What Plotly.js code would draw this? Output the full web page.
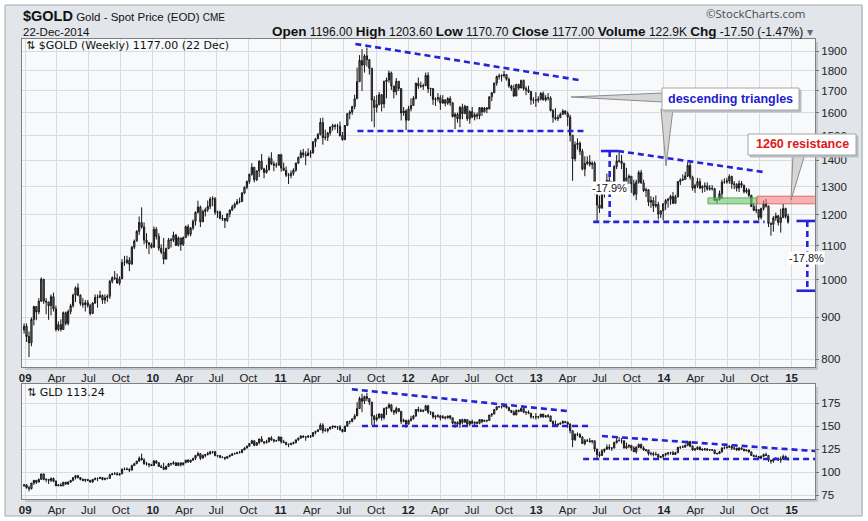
<!DOCTYPE html>
<html>
<head>
<meta charset="utf-8">
<script src="https://cdn.plot.ly/plotly-3.0.1.min.js"></script>
<style>
  html, body { margin: 0; padding: 0; background: #fff; }
  #chart { width: 868px; height: 521px; }
</style>
</head>
<body>
<div id="chart"></div>
<script>
// weekly bars, first week starts Mon 29 Dec 2008, last is 22 Dec 2014
const firstWeek = '2008-12-29';

// $GOLD weekly close / high / low (one row per year)
const goldClose = [
  878,853,838,895,928,914,942,1002,942,940,930,954,922,870,882,870,912,885,915,930,958,978,958,936,933,938,931,910,937,952,953,957,945,952,955,996,1006,1004,991,1003,1050,1050,1057,1045,1096,1115,1146,1175,1160,1118,1110,1104,1096,
  1153,1130,1093,1081,1060,1092,1119,1118,1134,1102,1125,1105,1126,1161,1137,1157,1179,1209,1227,1177,1212,1218,1229,1255,1256,1209,1210,1189,1188,1181,1204,1216,1227,1237,1246,1246,1276,1297,1318,1345,1372,1325,1358,1396,1366,1352,1362,1406,1385,1380,1380,1421,
  1369,1360,1342,1341,1349,1361,1388,1410,1429,1421,1418,1428,1429,1474,1486,1505,1556,1491,1493,1511,1536,1542,1540,1540,1500,1483,1543,1595,1602,1627,1663,1745,1852,1828,1876,1856,1812,1657,1623,1636,1682,1639,1746,1753,1788,1724,1696,1747,1712,1598,1607,1566,
  1617,1632,1665,1737,1725,1723,1725,1776,1710,1712,1660,1662,1668,1643,1658,1642,1664,1645,1582,1592,1572,1623,1595,1628,1572,1604,1580,1590,1585,1622,1603,1620,1616,1672,1691,1738,1770,1773,1775,1780,1757,1724,1712,1676,1731,1714,1751,1711,1705,1697,1658,1657,1656,
  1662,1688,1658,1668,1667,1609,1579,1572,1577,1592,1607,1596,1580,1501,1405,1462,1468,1435,1365,1387,1393,1383,1388,1296,1234,1223,1277,1295,1322,1310,1313,1375,1396,1396,1387,1308,1332,1338,1310,1272,1316,1352,1313,1285,1288,1244,1250,1231,1236,1203,1214,1238,
  1250,1254,1264,1240,1263,1318,1324,1326,1339,1379,1334,1294,1303,1318,1294,1300,1302,1290,1293,1292,1250,1253,1274,1316,1316,1320,1337,1310,1307,1294,1311,1305,1281,1287,1268,1229,1216,1218,1192,1222,1238,1230,1172,1169,1190,1197,1175,1191,1222,1195,1177
];
const goldHigh = [
  885,885,865,900,930,925,950,1007,1000,950,935,960,965,930,890,895,915,915,920,935,962,982,990,960,950,945,945,935,940,960,960,970,960,960,960,1000,1010,1025,1018,1010,1060,1070,1070,1066,1100,1120,1150,1195,1226,1175,1140,1112,1110,
  1162,1160,1140,1105,1125,1095,1125,1125,1145,1138,1130,1125,1130,1165,1169,1160,1185,1212,1249,1232,1218,1225,1250,1262,1265,1262,1215,1215,1200,1190,1206,1220,1235,1243,1255,1260,1280,1300,1322,1348,1388,1365,1360,1398,1424,1370,1381,1415,1431,1395,1390,1424,
  1425,1390,1375,1350,1360,1368,1390,1414,1440,1445,1435,1447,1440,1476,1490,1510,1575,1577,1525,1515,1538,1550,1550,1550,1560,1515,1545,1597,1610,1630,1682,1815,1880,1912,1885,1921,1860,1800,1675,1680,1695,1685,1750,1765,1800,1795,1715,1763,1745,1710,1625,1615,
  1630,1665,1675,1740,1765,1745,1735,1790,1792,1715,1700,1670,1690,1680,1680,1660,1670,1675,1645,1600,1600,1630,1640,1635,1630,1610,1625,1600,1600,1625,1625,1625,1625,1675,1695,1740,1775,1785,1781,1798,1780,1765,1730,1730,1735,1735,1755,1755,1722,1725,1700,1670,1694,
  1675,1695,1697,1680,1690,1675,1615,1620,1590,1600,1615,1610,1605,1590,1485,1475,1488,1475,1445,1415,1415,1420,1395,1395,1290,1267,1300,1299,1348,1345,1320,1380,1420,1433,1420,1390,1370,1345,1338,1325,1325,1360,1362,1325,1295,1290,1265,1262,1268,1245,1215,1240,
  1255,1259,1270,1280,1270,1320,1330,1345,1355,1392,1390,1340,1310,1332,1330,1305,1315,1315,1305,1305,1295,1255,1285,1325,1330,1332,1345,1340,1320,1312,1322,1320,1305,1295,1293,1270,1240,1236,1220,1225,1250,1255,1232,1175,1196,1208,1200,1221,1238,1225,1204
];
const goldLow = [
  860,840,805,830,880,893,908,940,935,908,894,905,915,865,866,865,870,880,880,908,925,940,955,930,925,915,925,905,910,935,925,950,935,935,940,948,990,1000,990,985,1003,1040,1045,1025,1045,1090,1115,1135,1155,1105,1092,1075,1092,
  1095,1120,1085,1075,1045,1060,1090,1095,1112,1100,1098,1085,1100,1125,1130,1130,1150,1165,1205,1160,1185,1195,1210,1220,1230,1200,1190,1185,1180,1157,1177,1192,1215,1222,1240,1240,1245,1272,1290,1310,1340,1315,1320,1335,1362,1330,1348,1360,1380,1357,1370,1378,
  1355,1358,1335,1309,1330,1340,1355,1385,1407,1410,1380,1415,1409,1425,1452,1485,1500,1462,1480,1477,1500,1520,1525,1510,1495,1478,1480,1540,1570,1590,1615,1680,1745,1700,1790,1820,1780,1560,1535,1600,1633,1605,1620,1665,1740,1705,1665,1680,1700,1565,1585,1523,
  1590,1605,1630,1660,1710,1715,1705,1725,1690,1675,1635,1630,1650,1612,1640,1628,1635,1630,1578,1527,1555,1535,1570,1595,1563,1550,1575,1565,1570,1570,1585,1600,1597,1615,1652,1690,1725,1755,1745,1765,1750,1715,1700,1672,1675,1705,1715,1702,1680,1690,1635,1640,1625,
  1645,1655,1655,1650,1655,1605,1555,1565,1562,1575,1590,1590,1540,1475,1321,1395,1442,1420,1360,1338,1380,1375,1365,1270,1180,1207,1225,1260,1285,1290,1275,1310,1365,1390,1365,1305,1295,1310,1277,1265,1251,1310,1310,1280,1262,1230,1224,1210,1225,1185,1190,1182,
  1217,1225,1235,1238,1240,1260,1305,1320,1325,1335,1325,1285,1277,1295,1290,1277,1280,1285,1285,1285,1250,1240,1250,1255,1310,1310,1310,1292,1290,1282,1280,1295,1275,1275,1262,1227,1213,1206,1183,1185,1215,1225,1160,1132,1145,1180,1165,1142,1190,1188,1171
];
const goldFirstOpen = 869;

// GLD weekly close / high / low
const gldClose = [
  86,83,82,88,91,89,92,98,92,92,91,93,90,85,86,85,89,87,89,91,94,96,94,92,91,92,91,89,92,93,93,94,92,93,93,97,98,98,97,98,103,103,103,102,107,109,112,115,113,109,109,108,107,
  112,110,106,105,103,106,109,109,110,107,110,108,110,113,111,113,115,118,120,115,118,119,120,122,122,118,118,116,116,115,117,118,120,120,121,121,124,126,128,131,134,129,132,136,133,132,133,137,135,134,134,138,
  133,132,130,130,131,132,135,137,139,138,138,139,139,143,144,146,151,145,145,147,149,150,149,149,146,144,150,155,155,158,161,169,180,177,182,180,176,161,157,159,163,159,169,170,173,167,165,169,166,155,156,152,
  156,158,161,168,167,166,167,172,165,165,160,161,161,159,160,159,161,159,153,154,152,157,154,157,152,155,153,154,153,157,155,156,156,162,163,168,171,171,171,172,170,167,165,162,167,166,169,165,165,164,160,160,160,
  160,163,160,161,161,155,152,151,152,153,155,154,152,145,135,141,141,138,131,134,134,133,134,125,119,118,123,125,127,126,126,132,134,134,134,126,128,129,126,122,127,130,126,124,124,120,120,119,119,116,117,119,
  120,121,121,119,121,127,127,127,129,133,128,124,125,127,124,125,125,124,124,124,120,120,122,126,126,127,128,126,126,124,126,125,123,124,122,118,117,117,115,117,119,118,113,112,114,115,113,114,117,115,113
];
const gldHigh = [
  87,87,85,88,91,90,93,98,98,93,91,94,94,91,87,88,89,89,90,91,94,96,97,94,93,92,92,91,92,94,94,95,94,94,94,98,99,100,100,99,104,105,105,104,108,110,112,117,120,115,111,109,109,
  113,113,111,108,110,107,110,110,112,111,110,110,110,113,114,113,115,118,122,120,119,119,122,123,123,123,118,118,117,116,117,119,120,121,122,123,125,127,129,131,135,133,132,136,139,133,135,138,139,136,135,139,
  138,135,133,131,132,133,135,137,140,140,139,140,140,143,145,146,153,153,148,147,149,150,150,150,151,147,150,155,156,158,163,176,182,185,183,186,180,175,162,163,164,163,170,171,175,174,166,171,169,166,158,157,
  157,161,162,168,171,169,168,173,173,166,164,161,163,162,162,160,161,162,159,155,155,157,158,158,157,156,157,155,155,157,157,157,157,162,164,168,171,172,172,174,172,171,167,167,168,168,170,170,166,167,164,161,164,
  161,163,163,162,163,161,156,156,153,154,156,155,155,153,143,142,143,142,139,136,136,137,134,134,124,122,125,125,130,130,127,133,137,138,137,134,132,130,129,128,128,131,131,128,125,124,122,122,122,120,117,119,
  121,121,122,123,122,127,128,129,130,134,134,129,126,128,128,125,126,126,125,125,124,121,123,127,128,128,129,129,127,126,127,127,125,124,124,122,119,119,117,118,120,121,118,113,115,116,115,117,119,118,116
];
const gldLow = [
  84,82,79,81,86,87,89,92,91,89,87,89,89,85,85,85,85,86,86,89,90,92,93,91,90,89,90,89,89,91,90,93,91,91,92,93,97,98,97,96,98,102,102,100,102,107,109,111,113,108,107,105,107,
  107,109,106,105,102,103,106,107,108,107,107,106,107,110,110,110,112,113,117,113,115,116,118,119,120,117,116,115,115,113,115,116,118,119,121,121,121,124,126,128,131,128,129,130,133,130,131,132,134,132,133,134,
  131,132,129,127,129,130,131,134,136,137,134,137,137,138,141,144,146,142,144,143,146,147,148,146,145,143,144,149,152,154,157,163,169,165,174,177,173,151,149,155,158,156,157,162,169,165,162,163,165,152,154,148,
  154,155,157,160,165,166,165,167,163,162,158,157,159,156,158,157,158,157,152,148,150,148,152,154,151,150,152,151,152,152,153,155,154,156,160,163,167,170,169,171,169,166,164,162,162,165,166,164,162,163,158,158,157,
  158,159,159,159,159,155,150,151,150,152,153,153,148,142,127,134,139,137,131,129,133,132,131,122,114,116,118,121,124,124,123,126,131,134,131,126,125,126,123,122,120,126,126,123,122,118,118,117,118,114,115,114,
  117,118,119,119,119,121,125,127,127,128,127,123,123,124,124,123,123,123,123,123,120,119,120,121,126,126,126,124,124,123,123,124,123,123,121,118,117,116,114,114,117,118,111,109,110,113,112,110,114,114,113
];
const gldFirstOpen = 85;

// axis ticks
const yearLabels = ['09', '10', '11', '12', '13', '14', '15'];
const monthLabels = ['Apr', 'Jul', 'Oct'];
const goldTicks = [800, 900, 1000, 1100, 1200, 1300, 1400, 1500, 1600, 1700, 1800, 1900];
const gldTicks = [75, 100, 125, 150, 175];

// pixel -> paper helpers (plot box is 22..815 x 39..499)
const L = 22, R = 815, T = 39, B = 499;
const px = x => (x - L) / (R - L);
const py = y => (B - y) / (B - T);

const weeks = goldClose.map((_, i) => {
  const d = new Date(Date.parse(firstWeek) + i * 7 * 86400000);
  return d.toISOString().slice(0, 10);
});

function bars(close, high, low, firstOpen, xa, ya) {
  const open = close.map((c, i) => i ? close[i - 1] : firstOpen);
  return {
    type: 'candlestick',
    x: weeks,
    open: open,
    close: close,
    high: high.map((h, i) => Math.max(h, open[i], close[i])),
    low: low.map((l, i) => Math.min(l, open[i], close[i])),
    xaxis: xa, yaxis: ya,
    increasing: { line: { color: '#151515', width: 1 }, fillcolor: '#8e8e8e' },
    decreasing: { line: { color: '#151515', width: 1 }, fillcolor: '#8e8e8e' },
    whiskerwidth: 0,
    hoverinfo: 'skip',
    showlegend: false
  };
}

let tickvals = [], ticktext = [];
yearLabels.forEach((y, i) => {
  const yr = 2009 + i;
  tickvals.push(yr + '-01-01'); ticktext.push('<b>' + y + '</b>');
  if (yr < 2015) {
    ['04', '07', '10'].forEach((m, j) => {
      tickvals.push(yr + '-' + m + '-01'); ticktext.push(monthLabels[j]);
    });
  }
});

const font = 'Liberation Sans, Arial, sans-serif';
const grid = '#d9dbdf';
const xBase = {
  type: 'date',
  range: ['2008-12-23', '2015-03-09'],
  tickvals: tickvals, ticktext: ticktext, tickangle: 0,
  tickfont: { family: font, size: 11.5, color: '#222' },
  showgrid: true, gridcolor: grid, gridwidth: 1,
  showline: true, linecolor: '#808080', mirror: true,
  ticks: '', zeroline: false, fixedrange: true,
  rangeslider: { visible: false }
};

const blue = '#2424d6';
const dash = { color: blue, width: 2.6, dash: '6px,4px' };
const solid = { color: blue, width: 2.6 };
function seg(x0, y0, x1, y1, xref, yref, line) {
  return { type: 'line', xref, yref, x0, y0, x1, y1, line };
}
function prect(x0, y0, x1, y1, fill, line, lw) {
  return { type: 'rect', xref: 'paper', yref: 'paper', x0: px(x0), x1: px(x1), y0: py(y1), y1: py(y0),
    fillcolor: fill, line: { color: line, width: lw === undefined ? 1 : lw }, layer: 'above' };
}
function ppath(pts, fill, line) {
  const d = pts.map((p, i) => (i ? 'L ' : 'M ') + px(p[0]) + ' ' + py(p[1])).join(' ') + ' Z';
  return { type: 'path', xref: 'paper', yref: 'paper', path: d, fillcolor: fill, line: { color: line, width: 1 } };
}

const shapes = [
  // frame
  { type: 'rect', xref: 'paper', yref: 'paper', x0: px(0), x1: px(868), y0: py(521), y1: py(0),
    line: { color: '#ffffff', width: 10 }, layer: 'below' },
  { type: 'rect', xref: 'paper', yref: 'paper', x0: px(5), x1: px(862), y0: py(516), y1: py(5),
    line: { color: '#a4a9b1', width: 1 }, layer: 'below' },
  // plot shadows
  { type: 'path', xref: 'paper', yref: 'paper', layer: 'below',
    path: `M ${px(817)} ${py(42)} L ${px(817)} ${py(369)} L ${px(25)} ${py(369)}`, line: { color: '#c2c6cd', width: 2 } },
  { type: 'path', xref: 'paper', yref: 'paper', layer: 'below',
    path: `M ${px(817)} ${py(387)} L ${px(817)} ${py(501)} L ${px(25)} ${py(501)}`, line: { color: '#c2c6cd', width: 2 } },

  // resistance zones
  { type: 'rect', xref: 'x', yref: 'y', x0: '2014-05-07', x1: '2014-09-24', y0: 1238, y1: 1259,
    fillcolor: 'rgba(110,200,110,0.6)', line: { color: 'rgba(60,160,60,0.8)', width: 1 } },
  { type: 'rect', xref: 'x', yref: 'y', x0: '2014-09-24', x1: '2015-04-01', y0: 1238, y1: 1265,
    fillcolor: 'rgba(240,120,120,0.55)', line: { color: 'rgba(220,80,80,0.8)', width: 1 } },

  // gold triangles
  seg('2011-08-03', 1940, '2013-05-03', 1753, 'x', 'y', dash),
  seg('2011-08-09', 1519, '2013-05-23', 1519, 'x', 'y', dash),
  seg('2013-08-23', 1436, '2014-10-12', 1354, 'x', 'y', dash),
  seg('2013-07-05', 1436, '2013-08-23', 1436, 'x', 'y', solid),
  seg('2013-06-13', 1177, '2014-10-16', 1177, 'x', 'y', dash),
  seg('2013-07-30', 1436, '2013-07-30', 1177, 'x', 'y', dash),
  // measured move
  seg('2015-02-15', 1180, '2015-02-15', 970, 'x', 'y', dash),
  seg('2015-01-15', 1180, '2015-03-20', 1180, 'x', 'y', solid),
  seg('2015-01-15', 970, '2015-03-20', 970, 'x', 'y', solid),

  // GLD triangles
  seg('2011-07-24', 190, '2013-04-01', 166.3, 'x2', 'y2', dash),
  seg('2011-08-22', 150, '2013-06-07', 150, 'x2', 'y2', dash),
  seg('2013-07-08', 139.1, '2015-03-09', 122.8, 'x2', 'y2', dash),
  seg('2013-05-15', 114.1, '2015-03-09', 114.1, 'x2', 'y2', dash),

  // callouts
  ppath([[571, 97], [663, 93], [663, 102]], '#d6d6d6', '#8c8c8c'),
  ppath([[661, 109], [673, 109], [666, 166]], '#d6d6d6', '#8c8c8c'),
  prect(664, 90, 801, 112, '#b9bdc4', '#b9bdc4'),
  prect(662, 88, 799, 110, '#ffffff', '#a6a6a6'),
  ppath([[793, 154], [805, 154], [791, 200]], '#d6d6d6', '#8c8c8c'),
  prect(750, 136, 858, 157, '#b9bdc4', '#b9bdc4'),
  prect(748, 134, 856, 155, '#ffffff', '#a6a6a6')
];

function note(text, x, y, opts) {
  return Object.assign({
    text: text, xref: 'paper', yref: 'paper', x: px(x), y: py(y),
    xanchor: 'left', yanchor: 'middle', showarrow: false,
    font: { family: font, size: 11.5, color: '#111' }
  }, opts || {});
}

const lbl = t => '<b><span style="font-size:13.5px">' + t + '</span></b>';
const annotations = [
  note('<b><span style="font-size:14.5px">$GOLD</span></b> Gold - Spot Price (EOD) <span style="font-size:10px">CME</span>', 21, 16),
  note('22-Dec-2014', 21, 32),
  note(lbl('Open') + ' 1196.00 ' + lbl('High') + ' 1203.60 ' + lbl('Low') + ' 1170.70 ' +
       lbl('Close') + ' 1177.00 ' + lbl('Volume') + ' 122.9K ' + lbl('Chg') + ' -17.50 (-1.47%) ' +
       '<span style="color:#5a6a90">▾</span>', 815, 32, { xanchor: 'right', font: { family: font, size: 12, color: '#111' } }),
  note('©StockCharts.com', 808, 14, { xanchor: 'right', font: { family: 'Open Sans, sans-serif', size: 11.5, color: '#4a4a4a' } }),
  note('⇅ $GOLD (Weekly) 1177.00 (22 Dec)', 24, 45, { font: { family: 'DejaVu Sans, sans-serif', size: 11, color: '#111' } }),
  note('⇅ GLD 113.24', 25, 392, { font: { family: 'DejaVu Sans, sans-serif', size: 11, color: '#111' } }),
  note('<b>descending triangles</b>', 730.5, 99, { xanchor: 'center', font: { family: font, size: 12.5, color: '#1c1cd0' } }),
  note('<b>1260 resistance</b>', 802, 144.5, { xanchor: 'center', font: { family: font, size: 12.5, color: '#e01818' } }),
  note('-17.9%', 609, 188, { xanchor: 'center', bgcolor: '#ffffff', borderpad: 0, font: { family: font, size: 11, color: '#111' } }),
  note('-17.8%', 806, 258, { xanchor: 'center', bgcolor: '#ffffff', borderpad: 0, font: { family: font, size: 11, color: '#111' } })
];

const layout = {
  width: 868, height: 521,
  margin: { l: L, r: 868 - R, t: T, b: 521 - B, pad: 0 },
  paper_bgcolor: '#e2e5ea',
  plot_bgcolor: '#f8f9fb',
  font: { family: font, size: 11, color: '#222' },
  showlegend: false,
  dragmode: false,
  xaxis: Object.assign({}, xBase, { anchor: 'y' }),
  xaxis2: Object.assign({}, xBase, { anchor: 'y2', matches: 'x' }),
  yaxis: {
    domain: [(B - 367) / (B - T), 1], type: 'log', range: [Math.log10(783), Math.log10(1967)],
    side: 'right', tickvals: goldTicks, ticktext: goldTicks.map(String),
    tickfont: { family: font, size: 11.5, color: '#222' },
    ticks: 'outside', ticklen: 3, tickcolor: '#777',
    showgrid: true, gridcolor: grid, showline: true, linecolor: '#808080', mirror: true,
    zeroline: false, fixedrange: true
  },
  yaxis2: {
    domain: [0, (B - 384) / (B - T)], range: [70.7, 195.7],
    side: 'right', tickvals: gldTicks, ticktext: gldTicks.map(String),
    tickfont: { family: font, size: 11.5, color: '#222' },
    ticks: 'outside', ticklen: 3, tickcolor: '#777',
    showgrid: true, gridcolor: grid, showline: true, linecolor: '#808080', mirror: true,
    zeroline: false, fixedrange: true
  },
  shapes: shapes,
  annotations: annotations
};

const data = [
  bars(goldClose, goldHigh, goldLow, goldFirstOpen, 'x', 'y'),
  bars(gldClose, gldHigh, gldLow, gldFirstOpen, 'x2', 'y2')
];

Plotly.newPlot('chart', data, layout, { staticPlot: true, displayModeBar: false });
</script>
</body>
</html>
